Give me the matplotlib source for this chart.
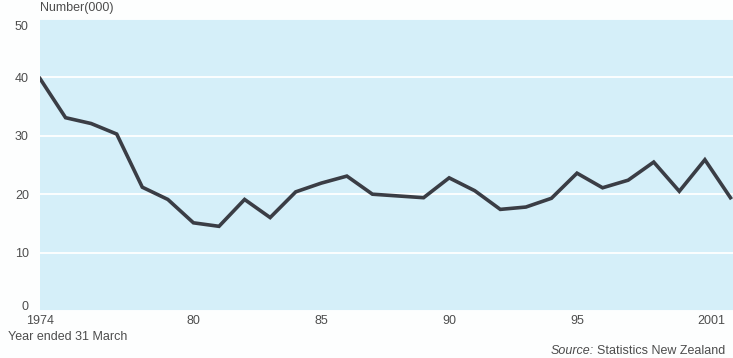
import numpy as np
import matplotlib.pyplot as plt
import matplotlib.transforms as mtransforms

plt.rcParams['font.family'] = ['Liberation Sans', 'DejaVu Sans']

years = np.arange(1974, 2002)
values = [39.8, 33.1, 32.1, 30.3, 21.2, 19.1, 15.1, 14.5, 19.1, 16.0,
          20.4, 21.9, 23.1, 20.0, 19.7, 19.4, 22.8, 20.6, 17.4, 17.8,
          19.3, 23.6, 21.1, 22.4, 25.5, 20.5, 25.9, 19.4]
xticks = [1974, 1980, 1985, 1990, 1995, 2001]
xtick_labels = ['1974', '80', '85', '90', '95', '2001']
yticks = [0, 10, 20, 30, 40, 50]

txt_col = '#4d4d4d'
fs = 9

fig = plt.figure(figsize=(7.33, 3.58), dpi=100)
fig.patch.set_facecolor('#fdfefe')
ax = fig.add_axes([40/733, 47/358, 693/733, 292/358])
ax.set_facecolor('#d5eff9')

ax.plot(years, values, color='#3a3d45', lw=2.6, solid_joinstyle='miter')

ax.set_xlim(1974, 2001.1)
ax.set_ylim(0, 50)
ax.set_yticks(yticks)
ax.set_xticks(xticks)
ax.set_xticklabels(xtick_labels)
ax.grid(axis='y', color='white', lw=1.3)
ax.set_axisbelow(True)
for s in ax.spines.values():
    s.set_visible(False)
ax.tick_params(length=0, labelsize=fs, colors=txt_col)
ax.tick_params(axis='y', pad=8)
ax.tick_params(axis='x', pad=3)

# last x label pulled inside the edge, end y labels nudged inwards
def nudge(lbl, dx, dy):
    lbl.set_transform(lbl.get_transform() +
                      mtransforms.ScaledTranslation(dx/100, dy/100, fig.dpi_scale_trans))

nudge(ax.get_xticklabels()[-1], -19, 0)
nudge(ax.get_yticklabels()[0], 0, 5)
nudge(ax.get_yticklabels()[-1], 0, -6)

fig.text(40/733, 1 - 8/358, 'Number(000)', fontsize=fs, color=txt_col,
         va='center', ha='left')
fig.text(8/733, 1 - 337/358, 'Year ended 31 March', fontsize=fs,
         color=txt_col, va='center', ha='left')
src = fig.text(725/733, 1 - 351/358, 'Statistics New Zealand', fontsize=fs,
               color=txt_col, va='center', ha='right')
fig.canvas.draw()
bb = src.get_window_extent()
fig.text((bb.x0 - 3) / fig.bbox.width, 1 - 351/358, 'Source:', fontsize=fs,
         style='italic', color=txt_col, va='center', ha='right')

fig.savefig('out.png', dpi=100, facecolor=fig.get_facecolor())
